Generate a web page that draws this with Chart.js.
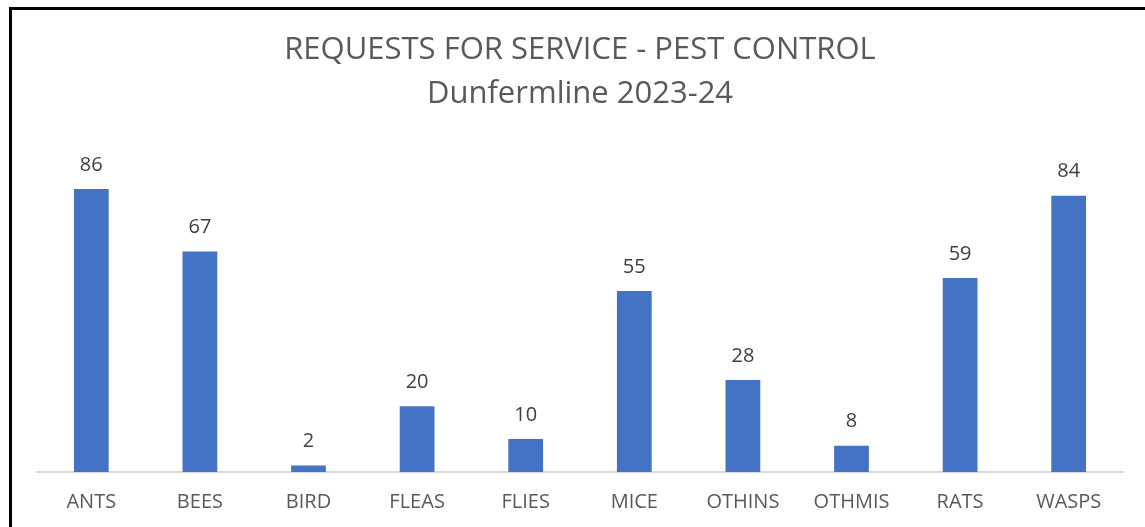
<!DOCTYPE html>
<html lang="en">
<head>
  <meta charset="UTF-8" />
  <title>Requests for Service - Pest Control</title>
  <script src="https://cdn.jsdelivr.net/npm/chart.js"></script>
  <style>
    html, body { margin: 0; padding: 0; background: #fff; }
    #wrap { position: relative; width: 1145px; height: 527px; overflow: hidden; }
    #frame { position: absolute; left: 9px; top: 7px; width: 1200px; height: 600px;
             border-left: 3px solid #000; border-top: 3px solid #000; box-sizing: border-box; }
    #chart { position: absolute; left: 0; top: 0; }
  </style>
</head>
<body>
  <div id="wrap">
    <div id="frame"></div>
    <canvas id="chart" width="1145" height="527"></canvas>
  </div>

  <script>
    const categories = ['ANTS', 'BEES', 'BIRD', 'FLEAS', 'FLIES', 'MICE', 'OTHINS', 'OTHMIS', 'RATS', 'WASPS'];
    const requests = [86, 67, 2, 20, 10, 55, 28, 8, 59, 84];
    const titleLines = ['REQUESTS FOR SERVICE - PEST CONTROL', 'Dunfermline 2023-24'];

    const fontFamily = '"Open Sans", "Noto Sans", sans-serif';

    // value labels above each bar
    const barLabels = {
      id: 'barLabels',
      afterDatasetsDraw(chart) {
        const ctx = chart.ctx;
        const meta = chart.getDatasetMeta(0);
        ctx.save();
        ctx.font = '20px ' + fontFamily;
        ctx.fillStyle = '#404040';
        ctx.textAlign = 'center';
        ctx.textBaseline = 'middle';
        meta.data.forEach((bar, i) => {
          ctx.fillText(requests[i], bar.x, bar.y - 24);
        });
        ctx.restore();
      }
    };

    new Chart(document.getElementById('chart'), {
      type: 'bar',
      data: {
        labels: categories,
        datasets: [{
          data: requests,
          backgroundColor: '#4472C4',
          borderWidth: 0,
          categoryPercentage: 1,
          barPercentage: 0.32
        }]
      },
      options: {
        responsive: false,
        animation: false,
        layout: { padding: { left: 37, right: 22, top: 0, bottom: 0 } },
        plugins: {
          legend: { display: false },
          tooltip: { enabled: false },
          title: {
            display: true,
            text: titleLines,
            color: '#595959',
            font: { family: fontFamily, size: 31, weight: 'normal', lineHeight: 1.42 },
            padding: { top: 28, bottom: 27 }
          }
        },
        scales: {
          x: {
            grid: { display: false, drawTicks: false },
            border: { display: true, color: '#d9d9d9', width: 2 },
            ticks: { color: '#595959', padding: 18, font: { family: fontFamily, size: 20 } },
            afterFit: scale => { scale.height = 55; }
          },
          y: {
            display: false,
            min: 0,
            max: 100
          }
        }
      },
      plugins: [barLabels]
    });
  </script>
</body>
</html>
